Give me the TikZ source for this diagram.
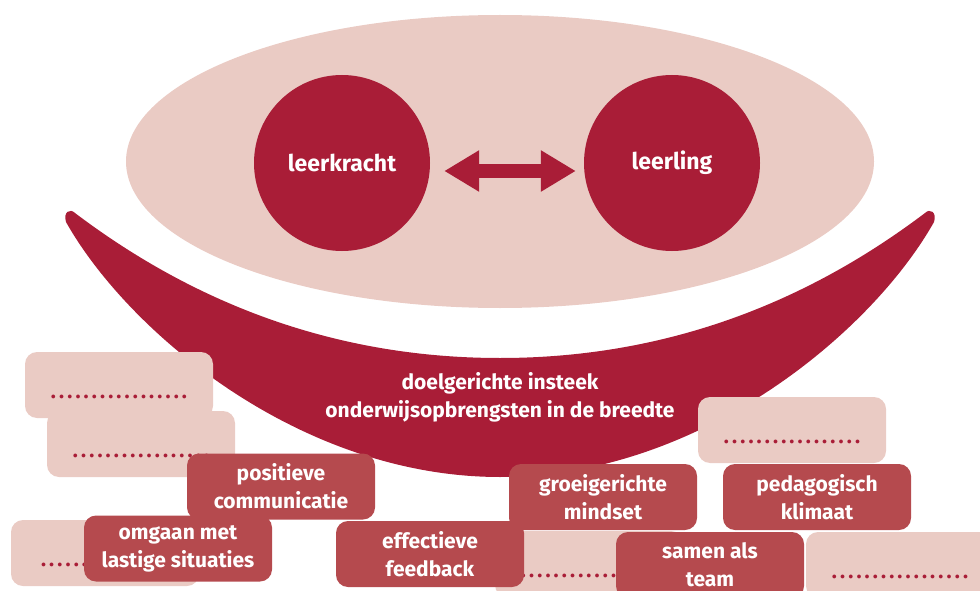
\documentclass[tikz,border=0pt]{standalone}
\usepackage{fontspec}
\setmainfont{Fira Sans}
\usetikzlibrary{arrows.meta}
\definecolor{rood}{RGB}{169,29,55}
\definecolor{roze}{RGB}{234,203,196}
\definecolor{blok}{RGB}{181,74,78}
\def\stippel{{\addfontfeatures{LetterSpace=15}\textcolor{rood}{.................}}}
\def\kortstippel{\makebox[128pt][l]{\addfontfeatures{LetterSpace=15}\textcolor{rood}{......}}}

\begin{document}
\begin{tikzpicture}[x=1pt,y=-1pt,font=\bfseries\fontsize{21}{28}\selectfont,
	licht/.style={minimum width=188pt,minimum height=66pt,inner sep=0pt,rounded corners=12pt,fill=roze,text height=26pt,text depth=0pt},
	donker/.style={minimum width=188pt,minimum height=66pt,inner sep=0pt,rounded corners=12pt,fill=blok,text=white,align=center},
	rondje/.style={circle,minimum size=176pt,inner sep=0pt,fill=rood,text=white,font=\bfseries\fontsize{23}{28}\selectfont}]
	\useasboundingbox (0,0) rectangle (980,591);
	\clip (0,0) rectangle (980,591);
	% ovaal met de twee rondjes
	\fill [roze] (500,161.5) ellipse [x radius=374pt,y radius=146.5pt];
	\node [rondje] at (342,163) (lk) {leerkracht};
	\node [rondje] at (672,163) (ll) {leerling};
	\draw [{Triangle[length=35pt,width=39pt]}-{Triangle[length=35pt,width=39pt]},line width=13pt,rood,shorten <=14pt,shorten >=8pt] ([yshift=-8pt]lk.east) -- ([yshift=-8pt]ll.west);
	% glimlach
	\fill [rood] (66,222) .. controls (128,332) and (300,477) .. (500,477) .. controls (700,477) and (872,332) .. (934,222) .. controls (937,212) and (930,208) .. (925,213) .. controls (810,300) and (670,358) .. (500,358) .. controls (330,358) and (190,300) .. (75,213) .. controls (70,208) and (63,212) .. cycle;
	\node [text=white,align=center] at (500,397) (doel) {doelgerichte insteek\\onderwijsopbrengsten in de breedte};
	% lege blokken
	\node [licht] at (119,385) (l1) {\stippel};
	\node [licht] at (141,444) (l2) {\stippel};
	\node [licht] at (105,553) (l3) {\kortstippel};
	\node [licht] at (792,430) (l4) {\stippel};
	\node [licht] at (589,564) (l5) {\stippel};
	\node [licht] at (900,565) (l6) {\stippel};
	% blokken met tekst
	\node [donker] at (281,486.5) (pos) {positieve\\communicatie};
	\node [donker] at (178,548.5) (omg) {omgaan met\\lastige situaties};
	\node [donker] at (430,554) (fb) {effectieve\\feedback};
	\node [donker] at (603,497) (groei) {groeigerichte\\mindset};
	\node [donker] at (817,497) (ped) {pedagogisch\\klimaat};
	\node [donker] at (710,565) (team) {samen als\\team};
\end{tikzpicture}
\end{document}
